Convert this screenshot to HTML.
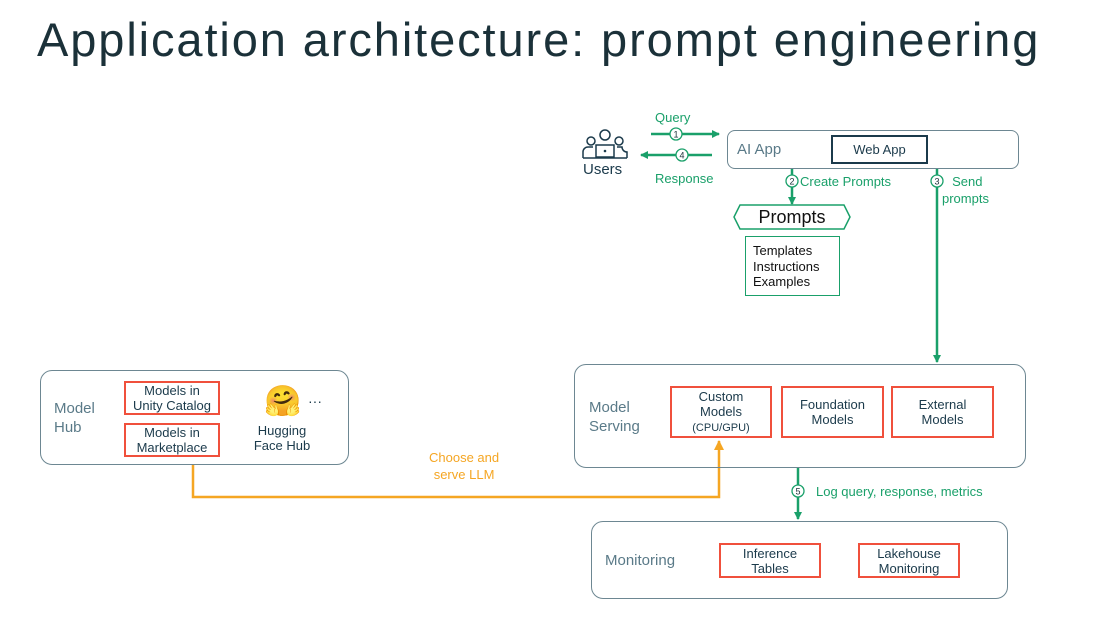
<!DOCTYPE html>
<html><head><meta charset="utf-8"><style>
body{margin:0;width:1098px;height:620px;background:#fff;position:relative;overflow:hidden;font-family:"Liberation Sans",sans-serif;}
.a{position:absolute;}
.t{color:#1b3139;}
.box{position:absolute;border:1.5px solid #6d8792;border-radius:12px;box-sizing:border-box;}
.red{position:absolute;border:2.5px solid #f0503c;box-sizing:border-box;display:flex;align-items:center;justify-content:center;text-align:center;font-size:13px;line-height:15px;color:#1b3a4b;}
.lab{position:absolute;font-size:15px;color:#5a7a88;line-height:19px;}
.g{position:absolute;font-size:13px;color:#1aa06a;line-height:16px;}
</style></head><body>
<div class="a t" style="left:37px;top:12px;font-size:47px;letter-spacing:1.9px;white-space:nowrap;">Application architecture: prompt engineering</div>

<svg class="a" style="left:0;top:0" width="1098" height="620">
<defs>
<marker id="ag" markerWidth="8" markerHeight="8" refX="7" refY="4" orient="auto" markerUnits="userSpaceOnUse"><path d="M0,0L8,4L0,8z" fill="#1aa06a"/></marker>
<marker id="ao" markerWidth="10" markerHeight="10" refX="9" refY="5" orient="auto" markerUnits="userSpaceOnUse"><path d="M0,0L10,5L0,10z" fill="#f5a623"/></marker>
</defs>
<g stroke="#1aa06a" stroke-width="2.5" fill="none">
<line x1="651" y1="134" x2="719" y2="134" marker-end="url(#ag)"/>
<line x1="712" y1="155" x2="641" y2="155" marker-end="url(#ag)"/>
<line x1="792" y1="168" x2="792" y2="204" marker-end="url(#ag)"/>
<line x1="937" y1="168" x2="937" y2="362" marker-end="url(#ag)"/>
<line x1="798" y1="467" x2="798" y2="519" marker-end="url(#ag)"/>
</g>
<g fill="#fff" stroke="#1aa06a" stroke-width="1.3">
<circle cx="676" cy="134" r="6"/><circle cx="682" cy="155" r="6"/><circle cx="792" cy="181" r="6"/><circle cx="937" cy="181" r="6"/><circle cx="798" cy="491" r="6"/>
</g>
<g font-size="9" fill="#1b3139" text-anchor="middle" font-family="Liberation Sans">
<text x="676" y="137.5">1</text><text x="682" y="158.5">4</text><text x="792" y="184.5">2</text><text x="937" y="184.5">3</text><text x="798" y="494.5">5</text>
</g>
<polyline points="193,464 193,497 719,497 719,441" fill="none" stroke="#f5a623" stroke-width="2.5" marker-end="url(#ao)"/>
<polygon points="740,205 844,205 850,217 844,229 740,229 734,217" fill="#fff" stroke="#1aa06a" stroke-width="1.5"/>
<g stroke="#1b3a4b" stroke-width="1.5" fill="none">
<circle cx="605" cy="135" r="5"/><circle cx="591" cy="141" r="4"/><circle cx="619" cy="141" r="4"/>
<path d="M583,158 v-6 a5,5 0 0 1 5,-5 h5"/><path d="M627,158 v-6 a5,5 0 0 1 -5,-5 h-5"/>
<rect x="596" y="145" width="18" height="12"/><line x1="583" y1="158" x2="627" y2="158"/>
</g>
<circle cx="605" cy="151" r="1.3" fill="#1b3a4b"/>
</svg>

<div class="a" style="left:583px;top:161px;font-size:15px;color:#1b3a4b;">Users</div>
<div class="g" style="left:655px;top:110px;">Query</div>
<div class="g" style="left:655px;top:171px;">Response</div>
<div class="g" style="left:800px;top:174px;">Create Prompts</div>
<div class="g" style="left:942px;top:173px;line-height:17px;text-align:center;">&nbsp;Send<br>prompts</div>
<div class="g" style="left:816px;top:484px;">Log query, response, metrics</div>
<div class="a" style="left:429px;top:449px;font-size:13px;color:#f5a623;text-align:center;line-height:17px;">Choose and<br>serve LLM</div>

<div class="box" style="left:727px;top:130px;width:292px;height:39px;border-radius:8px;"></div>
<div class="lab" style="left:737px;top:140px;">AI App</div>
<div class="a" style="left:831px;top:135px;width:97px;height:29px;border:2.5px solid #1b3a4b;box-sizing:border-box;font-size:13px;color:#1b3a4b;display:flex;align-items:center;justify-content:center;">Web App</div>

<div class="a" style="left:734px;top:205px;width:116px;height:24px;display:flex;align-items:center;justify-content:center;font-size:18px;color:#111;">Prompts</div>
<div class="a" style="left:745px;top:236px;width:95px;height:60px;border:1.5px solid #1aa06a;box-sizing:border-box;font-size:13px;line-height:15.5px;color:#111;padding:6px 0 0 7px;">Templates<br>Instructions<br>Examples</div>

<div class="box" style="left:574px;top:364px;width:452px;height:104px;"></div>
<div class="lab" style="left:589px;top:398px;">Model<br>Serving</div>
<div class="red" style="left:670px;top:386px;width:102px;height:52px;"><div>Custom<br>Models<br><span style="font-size:11px">(CPU/GPU)</span></div></div>
<div class="red" style="left:781px;top:386px;width:103px;height:52px;">Foundation<br>Models</div>
<div class="red" style="left:891px;top:386px;width:103px;height:52px;">External<br>Models</div>

<div class="box" style="left:40px;top:370px;width:309px;height:95px;"></div>
<div class="lab" style="left:54px;top:399px;">Model<br>Hub</div>
<div class="red" style="left:124px;top:381px;width:96px;height:34px;">Models in<br>Unity Catalog</div>
<div class="red" style="left:124px;top:423px;width:96px;height:34px;">Models in<br>Marketplace</div>
<div class="a" style="left:264px;top:385px;font-size:30px;line-height:34px;">🤗</div>
<div class="a" style="left:308px;top:393px;font-size:14px;color:#1b3a4b;">···</div>
<div class="a" style="left:240px;top:423px;width:84px;text-align:center;font-size:13px;line-height:15px;color:#1b3a4b;">Hugging<br>Face Hub</div>

<div class="box" style="left:591px;top:521px;width:417px;height:78px;"></div>
<div class="lab" style="left:605px;top:551px;">Monitoring</div>
<div class="red" style="left:719px;top:543px;width:102px;height:35px;">Inference<br>Tables</div>
<div class="red" style="left:858px;top:543px;width:102px;height:35px;">Lakehouse<br>Monitoring</div>
</body></html>
